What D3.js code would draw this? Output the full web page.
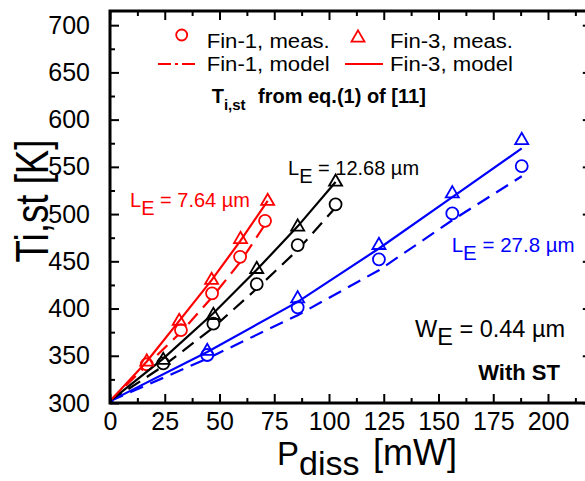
<!DOCTYPE html>
<html><head><meta charset="utf-8">
<script src="https://cdn.jsdelivr.net/npm/d3@7"></script>
<style>
body{margin:0;background:#fff}
svg{display:block}
text{font-family:"Liberation Sans",Arial,Helvetica,sans-serif}
</style>
</head><body>
<svg id="c" width="585" height="481"></svg>
<script>
// ---- tick labels ----
const xTickValues = [0, 25, 50, 75, 100, 125, 150, 175, 200];
const xMinorValues = [12.5, 37.5, 62.5, 87.5, 112.5, 137.5, 162.5, 187.5, 212.5];
const yTickValues = [300, 350, 400, 450, 500, 550, 600, 650, 700];
const yMinorValues = [325, 375, 425, 475, 525, 575, 625, 675];

// ---- Fin-1 / Fin-3 measured and model data (P_diss mW, T K) ----
// L_E = 7.64 um (red)
const redTriP = [16.8, 31.6, 46.4, 59.6, 72.0];
const redTriT = [345.5, 388.6, 432.0, 475.3, 515.6];
const redCirP = [16.8, 32.4, 46.6, 59.4, 70.8];
const redCirT = [341.0, 377.2, 416.1, 454.8, 492.9];
const redSolidP = [0, 16.8, 31.6, 46.4, 59.6, 72.0];
const redSolidT = [302, 344, 387, 430, 472, 514];
const redDashP = [0, 16.8, 32.4, 46.6, 59.4, 70.8];
const redDashT = [302, 340, 375, 412, 449, 489];
// L_E = 12.68 um (black)
const blkP = [24.3, 47.2, 67.0, 85.7, 103.0];
const blkTriT = [347.3, 394.9, 443.6, 488.4, 536.0];
const blkCirT = [342.0, 384.0, 425.9, 467.2, 510.3];
const blkSolidP = [0, 24.3, 47.2, 67.0, 85.7, 103.0];
const blkSolidT = [302, 347, 395, 441, 487, 534];
const blkDashP = [0, 24.3, 47.2, 67.0, 85.7, 103.0];
const blkDashT = [302, 339, 380, 421, 462, 507];
// L_E = 27.8 um (blue)
const bluP = [0, 44.4, 85.7, 122.8, 156.3, 188.0];
const bluTriT = [300, 356.8, 412.5, 469.0, 523.6, 580.1];
const bluCirP = [44.4, 85.7, 122.8, 156.3, 188.0];
const bluCirT = [350.8, 401.3, 452.1, 500.7, 550.8];
const bluSolidP = [0, 44.4, 85.7, 122.8, 156.3, 188.0];
const bluSolidT = [302, 354, 407, 463.6, 518, 569.5];
const bluDashP = [0, 44.4, 85.7, 122.8, 156.3, 188.0];
const bluDashT = [302, 347, 393, 440.6, 493.5, 540];

const RED = "#ff0000", BLUE = "#0000ff", BLACK = "#000000";

const svg = d3.select("#c");
const x = d3.scaleLinear([0, 220], [110, 591.8]);
const y = d3.scaleLinear([300, 715], [403, 11]);

svg.append("defs").append("clipPath").attr("id", "pa")
  .append("rect").attr("x", x(0)).attr("y", y(715))
  .attr("width", x(220) - x(0)).attr("height", y(300) - y(715));

const plot = svg.append("g").attr("clip-path", "url(#pa)");
const line = d3.line().x(d => x(d[0])).y(d => y(d[1]));
const zip = (a, b) => a.map((v, i) => [v, b[i]]);

function drawLine(P, T, color, dash) {
  plot.append("path").attr("d", line(zip(P, T)))
    .attr("fill", "none").attr("stroke", color).attr("stroke-width", 2.2)
    .attr("stroke-dasharray", dash || null);
}
const triPath = (s) => `M0,${-s*0.45}L${s*0.52},${s*0.45}L${-s*0.52},${s*0.45}Z`;
function drawTri(P, T, color) {
  plot.append("g").selectAll("path").data(zip(P, T)).join("path")
    .attr("d", triPath(12.5))
    .attr("transform", d => `translate(${x(d[0])},${y(d[1])})`)
    .attr("fill", "none").attr("stroke", color).attr("stroke-width", 1.8);
}
function drawCir(P, T, color) {
  plot.append("g").selectAll("circle").data(zip(P, T)).join("circle")
    .attr("cx", d => x(d[0])).attr("cy", d => y(d[1])).attr("r", 6)
    .attr("fill", "#fff").attr("stroke", color).attr("stroke-width", 1.8);
}
const DASH = "14,8";
drawLine(bluDashP, bluDashT, BLUE, DASH);
drawLine(blkDashP, blkDashT, BLACK, DASH);
drawLine(redDashP, redDashT, RED, DASH);
drawCir(bluCirP, bluCirT, BLUE);
drawCir(blkP, blkCirT, BLACK);
drawCir(redCirP, redCirT, RED);
drawLine(bluSolidP, bluSolidT, BLUE);
drawLine(blkSolidP, blkSolidT, BLACK);
drawLine(redSolidP, redSolidT, RED);
drawTri(bluP, bluTriT, BLUE);
drawTri(blkP, blkTriT, BLACK);
drawTri(redTriP, redTriT, RED);

// ---- axes ----
const F = '"Liberation Sans",Arial,sans-serif';
function styleAxis(g) {
  g.select(".domain").remove();
  g.selectAll(".tick line").attr("stroke", "#000").attr("stroke-width", 2);
  g.selectAll(".tick text").attr("font-family", F).attr("font-size", 25).attr("fill", "#000");
}
svg.append("g").attr("transform", `translate(0,${y(300)})`)
  .call(d3.axisBottom(x).tickValues(xTickValues).tickSize(-9).tickPadding(9).tickFormat(d3.format("d")))
  .call(styleAxis);
svg.append("g").attr("transform", `translate(0,${y(300)})`)
  .call(d3.axisBottom(x).tickValues(xMinorValues).tickSize(-5).tickFormat(""))
  .call(styleAxis);
svg.append("g").attr("transform", `translate(0,${y(715)})`)
  .call(d3.axisTop(x).tickValues(xTickValues).tickSize(-9).tickFormat(""))
  .call(styleAxis);
svg.append("g").attr("transform", `translate(0,${y(715)})`)
  .call(d3.axisTop(x).tickValues(xMinorValues).tickSize(-5).tickFormat(""))
  .call(styleAxis);
svg.append("g").attr("transform", `translate(${x(0)},0)`)
  .call(d3.axisLeft(y).tickValues(yTickValues).tickSize(-9).tickPadding(20).tickFormat(d3.format("d")))
  .call(styleAxis);
svg.append("g").attr("transform", `translate(${x(0)},0)`)
  .call(d3.axisLeft(y).tickValues(yMinorValues).tickSize(-5).tickFormat(""))
  .call(styleAxis);
svg.append("g").attr("transform", `translate(${x(220)},0)`)
  .call(d3.axisRight(y).tickValues(yTickValues).tickSize(-9).tickFormat(""))
  .call(styleAxis);
svg.append("g").attr("transform", `translate(${x(220)},0)`)
  .call(d3.axisRight(y).tickValues(yMinorValues).tickSize(-5).tickFormat(""))
  .call(styleAxis);
svg.append("rect").attr("x", x(0)).attr("y", y(715))
  .attr("width", x(220) - x(0)).attr("height", y(300) - y(715))
  .attr("fill", "none").attr("stroke", "#000").attr("stroke-width", 3);

// ---- axis titles ----
svg.append("text").attr("transform", "translate(48,201) rotate(-90)")
  .attr("text-anchor", "middle").attr("font-size", 46)
  .attr("textLength", 123).attr("lengthAdjust", "spacingAndGlyphs").text("Ti,st [K]");
const xt = svg.append("text").attr("x", 277).attr("y", 465).attr("font-size", 33);
xt.append("tspan").text("P");
xt.append("tspan").attr("dy", 10).attr("font-size", 34).text("diss");
xt.append("tspan").attr("x", 373).attr("dy", -10).attr("font-size", 36).text("[mW]");

// ---- legend ----
const lg = svg.append("g");
lg.append("circle").attr("cx", 181.7).attr("cy", 35).attr("r", 5.5)
  .attr("fill", "none").attr("stroke", RED).attr("stroke-width", 1.8);
lg.append("path").attr("d", triPath(12.5)).attr("transform", "translate(358,36)")
  .attr("fill", "none").attr("stroke", RED).attr("stroke-width", 1.8);
lg.append("line").attr("x1", 158).attr("x2", 195).attr("y1", 64).attr("y2", 64)
  .attr("stroke", RED).attr("stroke-width", 2.2).attr("stroke-dasharray", "13,4,3,4");
lg.append("line").attr("x1", 345).attr("x2", 383).attr("y1", 64).attr("y2", 64)
  .attr("stroke", RED).attr("stroke-width", 2.2);
const legTxt = [["Fin-1, meas.", 206.7, 48], ["Fin-3, meas.", 390, 48], ["Fin-1, model", 206.7, 71], ["Fin-3, model", 390, 71]];
lg.selectAll("text").data(legTxt).join("text")
  .attr("x", d => d[1]).attr("y", d => d[2]).attr("font-size", 19.5)
  .attr("textLength", 123).attr("lengthAdjust", "spacingAndGlyphs").text(d => d[0]);

// ---- annotations ----
const t1 = svg.append("text").attr("x", 211.7).attr("y", 103).attr("font-size", 20).attr("font-weight", "bold");
t1.append("tspan").text("T");
t1.append("tspan").attr("dy", 7).attr("font-size", 15).text("i,st");
t1.append("tspan").attr("x", 258).attr("dy", -7).text("from eq.(1) of [11]");

function lbl(xp, yp, sub, rest, color, size) {
  const t = svg.append("text").attr("x", xp).attr("y", yp).attr("font-size", size).attr("fill", color);
  t.append("tspan").text(sub[0]);
  t.append("tspan").attr("dy", 8).text(sub[1]);
  t.append("tspan").attr("dy", -8).text(rest);
}
lbl(130, 206.5, ["L", "E"], " = 7.64 \u00b5m", RED, 20);
lbl(288, 175, ["L", "E"], " = 12.68 \u00b5m", BLACK, 20);
lbl(451.7, 251.7, ["L", "E"], " = 27.8 \u00b5m", BLUE, 20.5);
lbl(415, 336.7, ["W", "E"], " = 0.44 \u00b5m", BLACK, 23.5);
svg.append("text").attr("x", 478.3).attr("y", 380).attr("font-size", 22)
  .attr("font-weight", "bold").text("With ST");
</script>
</body></html>
